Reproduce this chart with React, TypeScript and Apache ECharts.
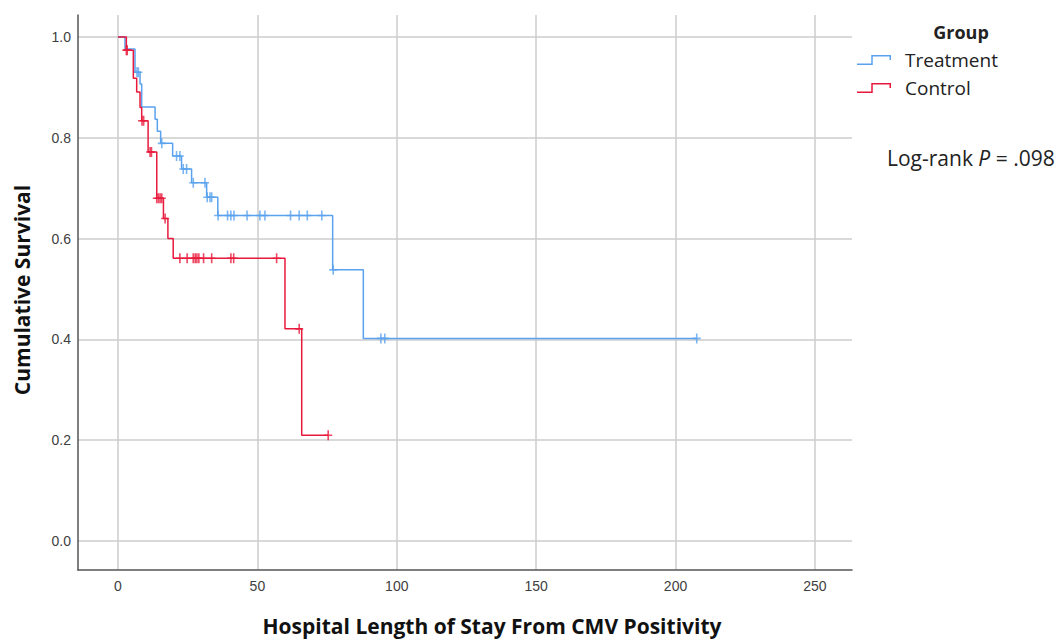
import React, { useEffect, useRef } from "react";
import * as echarts from "echarts";

// Kaplan-Meier step points (time, survival after event)
const treatEventTimes = [0, 2.5, 6.1, 7.9, 8.5, 13.3, 14.1, 15.3, 19.6, 22.8, 26.4, 31.8, 35.8, 77.0, 88.0];
const treatSurvival = [1.0, 0.976, 0.93, 0.907, 0.861, 0.837, 0.813, 0.789, 0.764, 0.738, 0.711, 0.682, 0.646, 0.538, 0.402];
const treatCensorTimes = [6.8, 7.3, 15.7, 21.0, 22.2, 23.4, 24.6, 27.0, 31.2, 32.0, 33.0, 33.6, 35.9, 39.3, 40.5, 41.6, 46.3, 50.9, 52.7, 61.9, 65.0, 67.9, 73.1, 77.2, 94.3, 95.7, 207.6];

const ctrlEventTimes = [0, 3.0, 5.5, 6.7, 7.9, 8.5, 10.8, 13.9, 16.3, 17.9, 19.8, 59.9, 65.9];
const ctrlSurvival = [1.0, 0.974, 0.918, 0.891, 0.86, 0.834, 0.772, 0.68, 0.64, 0.6, 0.561, 0.421, 0.21];
const ctrlCensorTimes = [3.0, 3.3, 8.6, 9.2, 11.5, 12.0, 13.9, 14.5, 15.1, 15.7, 16.9, 22.2, 24.8, 27.0, 27.7, 28.3, 29.0, 30.7, 33.6, 40.5, 41.5, 56.9, 65.0, 75.4];

const groupNames = ["Treatment", "Control"];
const groupColors = ["#5aa2ee", "#e8193c"];

function levelAt(times: number[], surv: number[], t: number) {
  let s = surv[0];
  for (let i = 0; i < times.length; i++) if (times[i] <= t) s = surv[i];
  return s;
}
function stepData(times: number[], surv: number[], censors: number[]) {
  const d = times.map((t, i) => [t, surv[i]]);
  const last = censors[censors.length - 1];
  if (last > times[times.length - 1]) d.push([last, surv[surv.length - 1]]);
  return d;
}
function censorData(times: number[], surv: number[], censors: number[]) {
  return censors.map((t) => [t, levelAt(times, surv, t)]);
}

const plusPath = "path://M3.2,0 H4.8 V4.2 H8 V5.8 H4.8 V10 H3.2 V5.8 H0 V4.2 H3.2 Z";
const stepIcon = "path://M0,8.5 H14.25 V0 H34 V5 H32.5 V1.5 H15.75 V10 H0 Z";

export default function App() {
  const ref = useRef<HTMLDivElement>(null);
  useEffect(() => {
    if (!ref.current) return;
    const chart = echarts.init(ref.current, null, { renderer: "svg" });
    const tickFont = { fontFamily: "Liberation Sans", fontSize: 14, color: "#404040" };
    chart.setOption({
      animation: false,
      backgroundColor: "#ffffff",
      grid: { left: 78, top: 15, right: 211, bottom: 69, containLabel: false },
      xAxis: {
        type: "value",
        min: -14.35,
        max: 263.3,
        splitNumber: 5,
        axisLine: { show: true, onZero: false, lineStyle: { color: "#555", width: 1.5 } },
        axisTick: { show: false },
        axisLabel: { ...tickFont, margin: 9, showMinLabel: false, showMaxLabel: false },
        splitLine: { show: true, showMinLine: false, showMaxLine: false, lineStyle: { color: "#cccccc", width: 1.5 } },
      },
      yAxis: {
        type: "value",
        min: -0.0575,
        max: 1.0437,
        splitNumber: 5,
        axisLine: { show: true, onZero: false, lineStyle: { color: "#555", width: 1.5 } },
        axisTick: { show: false },
        axisLabel: {
          ...tickFont,
          margin: 7,
          showMinLabel: false,
          showMaxLabel: false,
          formatter: (v: number) => v.toFixed(1),
        },
        splitLine: { show: true, showMinLine: false, showMaxLine: false, lineStyle: { color: "#cccccc", width: 1.5 } },
      },
      legend: {
        orient: "vertical",
        left: 857,
        top: 50,
        padding: 0,
        itemWidth: 34,
        itemHeight: 10,
        itemGap: 8,
        textStyle: { fontFamily: "Open Sans", fontSize: 19, lineHeight: 20, color: "#222", padding: [0, 0, 0, 9] },
        data: groupNames.map((n, i) => ({ name: n, icon: stepIcon, itemStyle: { color: groupColors[i] } })),
      },
      graphic: [
        {
          type: "text",
          x: 961,
          y: 32,
          style: {
            text: "Group",
            fontFamily: "Open Sans",
            fontWeight: "bold",
            fontSize: 18,
            lineHeight: 18,
            fill: "#222",
            align: "center",
            verticalAlign: "middle",
          },
        },
        {
          type: "text",
          x: 887,
          y: 158,
          style: {
            text: "{a|Log-rank }{b|P}{a| = .098}",
            verticalAlign: "middle",
            rich: {
              a: { fontFamily: "Open Sans", fontSize: 21, fill: "#222" },
              b: { fontFamily: "Open Sans", fontSize: 21, fontStyle: "italic", fill: "#222" },
            },
          },
        },
        {
          type: "text",
          x: 492,
          y: 626,
          style: {
            text: "Hospital Length of Stay From CMV Positivity",
            fontFamily: "Open Sans",
            fontWeight: "bold",
            fontSize: 21,
            fill: "#111",
            align: "center",
            verticalAlign: "middle",
          },
        },
        {
          type: "text",
          x: 22,
          y: 290,
          rotation: Math.PI / 2,
          style: {
            text: "Cumulative Survival",
            fontFamily: "Open Sans",
            fontWeight: "bold",
            fontSize: 21,
            fill: "#111",
            align: "center",
            verticalAlign: "middle",
          },
        },
      ],
      series: [
        {
          name: groupNames[0],
          type: "line",
          step: "end",
          data: stepData(treatEventTimes, treatSurvival, treatCensorTimes),
          showSymbol: false,
          lineStyle: { color: groupColors[0], width: 1.5 },
          itemStyle: { color: groupColors[0] },
          z: 2,
        },
        {
          name: groupNames[0],
          type: "scatter",
          data: censorData(treatEventTimes, treatSurvival, treatCensorTimes),
          symbol: plusPath,
          symbolSize: [8, 10],
          itemStyle: { color: groupColors[0] },
          z: 3,
        },
        {
          name: groupNames[1],
          type: "line",
          step: "end",
          data: stepData(ctrlEventTimes, ctrlSurvival, ctrlCensorTimes),
          showSymbol: false,
          lineStyle: { color: groupColors[1], width: 1.5 },
          itemStyle: { color: groupColors[1] },
          z: 4,
        },
        {
          name: groupNames[1],
          type: "scatter",
          data: censorData(ctrlEventTimes, ctrlSurvival, ctrlCensorTimes),
          symbol: plusPath,
          symbolSize: [8, 10],
          itemStyle: { color: groupColors[1] },
          z: 5,
        },
      ],
    });
    return () => chart.dispose();
  }, []);
  return (
    <div
      ref={ref}
      style={{ position: "fixed", left: 0, top: 0, width: 1063, height: 639, background: "#fff" }}
    />
  );
}
